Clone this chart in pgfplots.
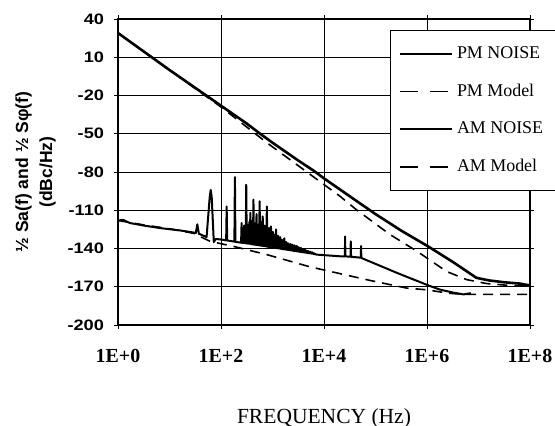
\documentclass[border=0pt]{standalone}
\usepackage{fontspec}
\setmainfont{Liberation Serif}
\newfontfamily\ysans[FakeStretch=1.2]{Liberation Sans}
\newfontfamily\labsans{Liberation Sans}
\usepackage{pgfplots}
\pgfplotsset{compat=1.18}
\usetikzlibrary{calc}

% x values are log10 of the frequency in Hz
\begin{document}
\begin{tikzpicture}
\begin{axis}[
    width=206bp, height=153bp, scale only axis,
    xmin=0, xmax=8, ymin=-200, ymax=40,
    xtick={0,2,4,6,8},
    xticklabels={1E+0,1E+2,1E+4,1E+6,1E+8},
    ytick={-200,-170,-140,-110,-80,-50,-20,10,40},
    yticklabels={-200,-170,-140,-110,-80,-50,-20,10,40},
    grid=major,
    major grid style={black, line width=0.5bp},
    axis line style={black, line width=0.6bp},
    tick align=outside,
    major tick length=2bp,
    tick style={black, line width=0.5bp},
    yticklabel style={font=\ysans\bfseries\fontsize{7.6}{8}\selectfont, xshift=-1.5bp},
    xticklabel style={font=\bfseries\fontsize{10}{12}\selectfont, yshift=-6.5bp},
    xlabel={FREQUENCY (Hz)},
    xlabel style={font=\fontsize{10.8}{12}\selectfont, at={(axis description cs:0.5,0)}, anchor=center, yshift=-46.5bp},
    ylabel={½ Sa(f) and ½ Sφ(f)\\(dBc/Hz)},
    ylabel style={font=\labsans\bfseries\fontsize{8.8}{12}\selectfont, align=center, at={(axis description cs:-0.2,0.5)}, anchor=center},
    legend style={at={(axis description cs:0.660,0.964)}, anchor=north west, draw=black, line width=0.5bp, fill=white,
        font=\fontsize{9}{10}\selectfont, row sep=7.3bp, inner xsep=4bp, inner ysep=6bp},
    legend cell align=left,
    legend image code/.code={\draw[#1] (0bp,0bp) -- (26bp,0bp);},
]
% PM NOISE
\addplot[black, line width=1.3bp] coordinates {
(0,29) (0.5,14.5) (1,0) (1.5,-14) (2,-28) (2.5,-42) (2.76,-50) (3,-57) (3.5,-71)
(3.8,-79) (4,-85) (4.57,-101) (5,-113) (5.5,-126) (6.02,-138.3) (6.5,-150.5)
(6.96,-163) (7.2,-165) (7.5,-166.5) (7.8,-167.5) (8,-169)
};
\addlegendentry{PM NOISE}
% PM Model
\addplot[black, line width=0.8bp, dash pattern=on 5bp off 3.5bp,
    legend image post style={dash pattern=on 9bp off 6bp}] coordinates {
(0,29) (1,0) (2,-29) (2.89,-57) (3.21,-66.5) (3.6,-78) (4.31,-99) (4.63,-109.6)
(5.28,-129) (5.8,-142) (6.38,-158) (6.77,-164.4) (7.16,-167.5) (7.6,-169) (8,-169.5)
};
\addlegendentry{PM Model}
% AM NOISE
\addplot[black, line width=1bp, line join=round] coordinates {
(0,-118) (0.1,-117.6) (0.23,-120) (0.5,-122) (0.82,-124) (1.2,-125.8) (1.46,-127.4)
(1.51,-127.8) (1.54,-121) (1.57,-128.4) (1.66,-130) (1.72,-131)
(1.78,-100) (1.80,-94) (1.82,-100) (1.86,-135) (1.9,-132.5) (2.01,-133)
(2.10,-133.6) (2.11,-107) (2.12,-133.7) (2.26,-134.6) (2.27,-84) (2.28,-134.8)
(2.39,-135.4) (2.40,-120) (2.41,-135.5)
(2.42,-135.6) (2.43,-124) (2.44,-135.7) (2.45,-122) (2.46,-135.8) (2.47,-126)
(2.48,-135.9) (2.49,-90) (2.50,-136.1) (2.51,-121) (2.52,-136.2) (2.53,-125)
(2.54,-136.3) (2.55,-119) (2.56,-136.4) (2.57,-112) (2.58,-136.5) (2.59,-123)
(2.60,-136.8) (2.61,-118) (2.62,-136.9) (2.63,-101.7) (2.64,-137.0) (2.65,-124)
(2.66,-137.1) (2.67,-120) (2.68,-137.2) (2.69,-113) (2.70,-137.4) (2.71,-125)
(2.72,-137.5) (2.73,-121) (2.74,-137.6) (2.75,-103) (2.76,-137.7) (2.77,-126)
(2.78,-137.8) (2.79,-119) (2.80,-138.0) (2.81,-114.8) (2.82,-138.1) (2.83,-127)
(2.84,-138.2) (2.85,-122) (2.86,-138.3) (2.87,-126) (2.88,-138.4) (2.89,-107)
(2.90,-138.7) (2.91,-127) (2.92,-138.8) (2.93,-124) (2.94,-138.9) (2.95,-128)
(2.96,-139.0) (2.97,-122.7) (2.98,-139.1) (2.99,-129) (3.00,-139.3) (3.01,-127)
(3.02,-139.4) (3.03,-130) (3.04,-139.5) (3.05,-129) (3.06,-139.6) (3.07,-125)
(3.08,-139.8) (3.09,-131) (3.10,-139.9) (3.11,-130) (3.12,-140.0) (3.13,-132)
(3.14,-140.1) (3.15,-131) (3.16,-140.2) (3.17,-133) (3.18,-140.4) (3.19,-134)
(3.20,-140.6) (3.21,-133) (3.22,-140.7) (3.23,-132) (3.24,-140.8) (3.25,-135)
(3.26,-140.9) (3.27,-135) (3.28,-141.0) (3.29,-136) (3.30,-141.2) (3.31,-136)
(3.32,-141.3) (3.33,-137) (3.34,-141.4) (3.35,-136.5) (3.36,-141.5) (3.37,-138)
(3.38,-141.6) (3.39,-137) (3.40,-141.9) (3.41,-138) (3.42,-142.0) (3.43,-137.5)
(3.44,-142.1) (3.45,-138.5) (3.46,-142.2) (3.47,-138) (3.48,-142.3) (3.49,-139)
(3.50,-142.5) (3.51,-139) (3.52,-142.6) (3.53,-140) (3.54,-142.7) (3.55,-139.5)
(3.56,-142.8) (3.57,-140.5) (3.58,-142.9) (3.59,-140.5) (3.60,-143.1) (3.61,-141)
(3.62,-143.2) (3.63,-141) (3.64,-143.3) (3.65,-141.5) (3.66,-143.4) (3.67,-142)
(3.68,-143.5) (3.69,-142) (3.70,-143.7) (3.71,-142.5) (3.72,-143.8) (3.73,-142.5)
(3.74,-143.9) (3.75,-143) (3.76,-144.0) (3.77,-143) (3.78,-144.1) (3.79,-143.5)
(3.80,-144.4) (3.81,-143.8) (3.82,-144.5) (3.83,-144.2) (3.84,-144.6)
(3.86,-144.8) (4.1,-145.5) (4.31,-146.1) (4.405,-146.2) (4.41,-130.5) (4.415,-146.2)
(4.515,-146.4) (4.52,-134.4) (4.525,-146.5) (4.715,-147.2) (4.72,-138) (4.725,-147.4)
(5.41,-159) (6.03,-169) (6.25,-172.2) (6.5,-174.5) (6.71,-176) (6.85,-175)
};
\addlegendentry{AM NOISE}
% AM Model
\addplot[black, line width=0.8bp, dash pattern=on 5bp off 3.5bp,
    legend image post style={dash pattern=on 9bp off 6bp}] coordinates {
(0,-118) (0.5,-121.5) (1,-124.5) (1.46,-128) (1.79,-134.4) (2.24,-138.3) (2.89,-144.8)
(3.73,-154.4) (4.31,-159.7) (4.89,-165) (5.6,-171) (6.02,-172.5) (6.4,-175)
(6.71,-176) (8,-176)
};
\addlegendentry{AM Model}
\end{axis}
\pgfresetboundingbox
\path ($(current axis.south west)+(-59bp,-50bp)$) rectangle ($(current axis.north east)+(12.5bp,9.5bp)$);
\end{tikzpicture}
\end{document}
